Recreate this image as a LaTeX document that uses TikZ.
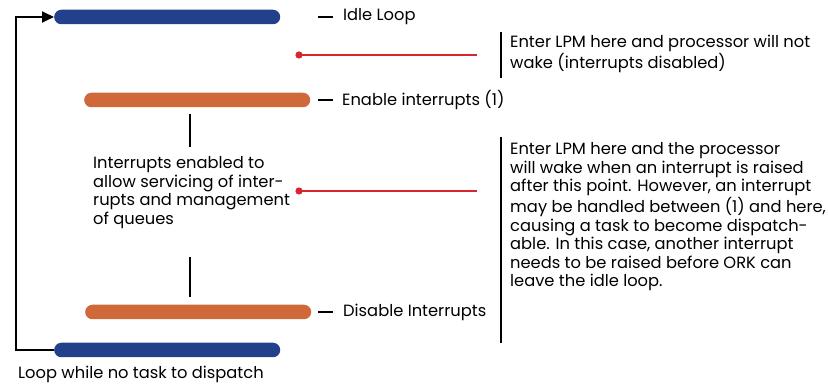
\documentclass[tikz,border=0pt]{standalone}
\usepackage{fontspec}
\setmainfont{Poppins}
\usetikzlibrary{arrows.meta}
\definecolor{barblue}{HTML}{22408C}
\definecolor{barorange}{HTML}{D0693A}
\definecolor{markred}{HTML}{D9262E}
\begin{document}
\begin{tikzpicture}[x=1pt,y=-1pt,
  bar/.style={rounded corners=7.2pt, minimum width=226pt, minimum height=14.5pt,
    inner sep=0pt, anchor=west},
  idlebar/.style={bar, fill=barblue},
  irqbar/.style={bar, fill=barorange},
  txt/.style={font=\fontsize{16.3}{18.6}\selectfont, inner sep=0pt, align=left},
  lbl/.style={txt, anchor=west},
  para/.style={txt, anchor=north west},
  tick/.style={line width=1.6pt},
  probe/.style={draw=markred, line width=1.6pt},
  loop/.style={line width=1.8pt, -{Triangle[length=12pt,width=11pt]}}
]
\useasboundingbox (0,0) rectangle (828,387);

% the four stages of the idle loop
\node[idlebar] (idletop) at (54,17) {};
\node[irqbar]  (enable)  at (84,100) {};
\node[irqbar]  (disable) at (85,312) {};
\node[idlebar] (idlebot) at (54,350) {};

% loop back to the top while nothing can be dispatched
\coordinate (loopcorner) at (16,350);
\draw[loop] (idlebot.west) -- (loopcorner) |- (idletop.west);

% stage labels
\coordinate (t1a) at (318,17);  \coordinate (t1b) at (333,17);
\coordinate (t2a) at (318,100); \coordinate (t2b) at (333,100);
\coordinate (t3a) at (318,312); \coordinate (t3b) at (333,312);
\draw[tick] (t1a) -- (t1b);
\draw[tick] (t2a) -- (t2b);
\draw[tick] (t3a) -- (t3b);
\node[lbl] (lidle)    at (343,17)  {Idle Loop};
\node[lbl] (lenable)  at (342,100) {Enable interrupts (1)};
\node[lbl] (ldisable) at (343,312) {Disable Interrupts};
\node[lbl] (lloop)    at (18,374)  {Loop while no task to dispatch};

% window where interrupts are enabled
\coordinate (w1a) at (190,114); \coordinate (w1b) at (190,147);
\coordinate (w2a) at (190,257); \coordinate (w2b) at (190,297);
\draw[tick] (w1a) -- (w1b);
\draw[tick] (w2a) -- (w2b);
\node[para] (window) at (93,156.5) {Interrupts enabled to\\allow servicing of inter-\\rupts and management\\of queues};

% low-power-mode entry points
\coordinate (p1) at (299,55);  \coordinate (p1e) at (477,55);
\coordinate (p2) at (299,191); \coordinate (p2e) at (477,191);
\fill[markred] (p1) circle (3.6);
\fill[markred] (p2) circle (3.6);
\draw[probe] (p1) -- (p1e);
\draw[probe] (p2) -- (p2e);

\coordinate (b1a) at (501,32);  \coordinate (b1b) at (501,78);
\coordinate (b2a) at (501,137); \coordinate (b2b) at (501,343);
\draw[tick] (b1a) -- (b1b);
\draw[tick] (b2a) -- (b2b);
\node[para] (note1) at (510,35) {Enter LPM here and processor will not\\wake (interrupts disabled)};
\node[para] (note2) at (510,142.5) {Enter LPM here and the processor\\will wake when an interrupt is raised\\after this point. However, an interrupt\\may be handled between (1) and here,\\causing a task to become dispatch-\\able. In this case, another interrupt\\needs to be raised before ORK can\\leave the idle loop.};
\end{tikzpicture}
\end{document}
